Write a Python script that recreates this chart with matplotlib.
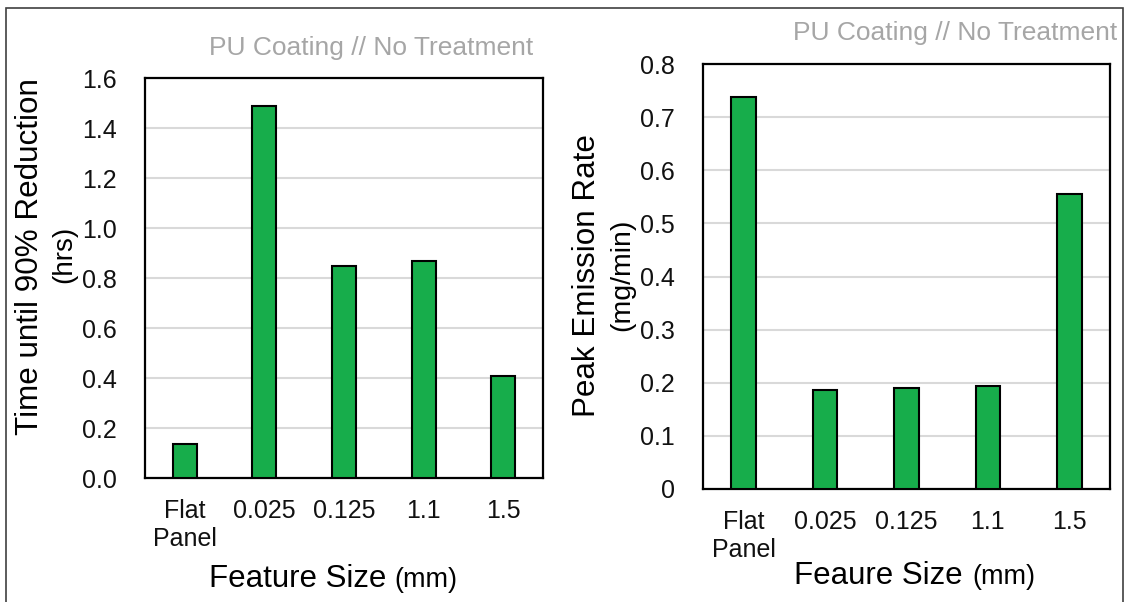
from matplotlib import pyplot as plt
from matplotlib.patches import Rectangle

categorias = ["Flat\nPanel", "0.025", "0.125", "1.1", "1.5"]
tiempo_90 = [0.136, 1.487, 0.847, 0.867, 0.41]
emision_pico = [0.737, 0.187, 0.19, 0.194, 0.555]
ticks_izq = [0.0, 0.2, 0.4, 0.6, 0.8, 1.0, 1.2, 1.4, 1.6]
ticks_der = [0, 0.1, 0.2, 0.3, 0.4, 0.5, 0.6, 0.7, 0.8]

plt.rcParams['font.family'] = ['Liberation Sans', 'DejaVu Sans']

W, H = 1125, 602
fig = plt.figure(figsize=(W / 100, H / 100), dpi=100)

def px(x, y):
        # pixeles (origen arriba a la izquierda) -> coordenadas de figura
        return x / W, 1 - y / H

def caja(left, top, right, bottom):
        x0, y1 = px(left, top)
        x1, y0 = px(right, bottom)
        return [x0, y0, x1 - x0, y1 - y0]

# marco exterior
fig.patches.append(Rectangle(px(6, 640), (1123 - 6) / W, (640 - 8) / H,
                             transform=fig.transFigure, fill=False,
                             edgecolor="#404040", linewidth=1.2))

verde = "#17ad4b"

def panel(pos, valores, ticks, fmt, ylim, pad_x):
        ax = fig.add_axes(pos)
        x = range(len(categorias))
        ax.bar(x, valores, width=0.3, color=verde, edgecolor="black", linewidth=1.5, zorder=3)
        ax.set_xlim(-0.5, len(categorias) - 0.5)
        ax.set_ylim(*ylim)
        ax.set_yticks(ticks)
        ax.set_yticklabels([fmt(t) for t in ticks])
        ax.set_xticks(list(x))
        ax.set_xticklabels(categorias, linespacing=1.2)
        ax.tick_params(axis="both", length=0, labelsize=18, colors="#111111")
        ax.tick_params(axis="y", pad=20)
        ax.tick_params(axis="x", pad=pad_x)
        ax.yaxis.grid(True, color="#d9d9d9", linewidth=1.5, zorder=0)
        for s in ax.spines.values():
                s.set_linewidth(1.6)
                s.set_color("black")
        return ax

ax1 = panel(caja(145, 78, 543, 478), tiempo_90, ticks_izq, lambda t: f"{t:.1f}", (0, 1.6), 15)
ax2 = panel(caja(703, 64, 1110, 489), emision_pico, ticks_der, lambda t: f"{t:g}", (0, 0.8), 15)

gris = "#a6a6a6"
fig.text(*px(533, 48), "PU Coating // No Treatment", color=gris, fontsize=19, ha="right", va="center")
fig.text(*px(1117, 33), "PU Coating // No Treatment", color=gris, fontsize=19, ha="right", va="center")

# etiquetas del eje y (dos lineas)
fig.text(*px(30, 257), "Time until 90% Reduction", fontsize=22.6, rotation=90, ha="center", va="center")
fig.text(*px(64, 254), "(hrs)", fontsize=20, rotation=90, ha="center", va="center")
fig.text(*px(587, 276), "Peak Emission Rate", fontsize=22.6, rotation=90, ha="center", va="center")
fig.text(*px(622, 275), "(mg/min)", fontsize=20.5, rotation=90, ha="center", va="center")

# etiquetas del eje x
fig.text(*px(386, 587), "Feature Size", fontsize=22.5, ha="right", va="baseline")
fig.text(*px(394, 587), "(mm)", fontsize=19.5, ha="left", va="baseline")
fig.text(*px(963, 584), "Feaure Size", fontsize=22.5, ha="right", va="baseline")
fig.text(*px(972, 584), "(mm)", fontsize=19.5, ha="left", va="baseline")

plt.savefig("out.png", dpi=100)
